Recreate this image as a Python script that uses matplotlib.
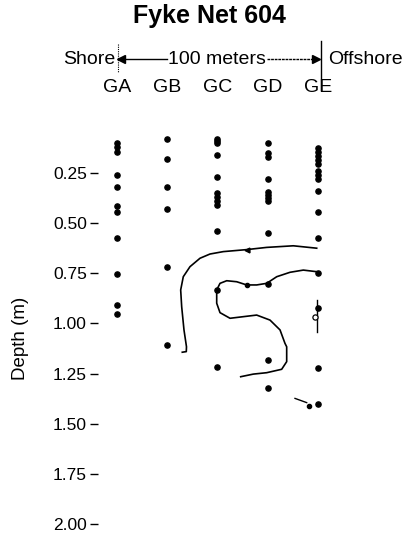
import matplotlib
matplotlib.use('Agg')
import matplotlib.pyplot as plt

plt.rcParams['font.family'] = ['Liberation Sans', 'DejaVu Sans']

# Stations along the transect (column index = position)
stations = ['GA', 'GB', 'GC', 'GD', 'GE']

# Sampling depths (m) at each station
depth_ga = [0.103, 0.122, 0.148, 0.262, 0.322, 0.415, 0.447, 0.577, 0.752, 0.91, 0.952]
depth_gb = [0.082, 0.183, 0.323, 0.432, 0.72, 1.108]
depth_gc = [0.08, 0.092, 0.104, 0.163, 0.273, 0.352, 0.372, 0.39, 0.41, 0.54, 0.835, 1.22]
depth_gd = [0.104, 0.153, 0.172, 0.283, 0.345, 0.361, 0.377, 0.389, 0.549, 0.805, 1.183, 1.324]
depth_ge = [0.127, 0.147, 0.167, 0.187, 0.207, 0.242, 0.261, 0.281, 0.34, 0.446, 0.573,
            0.748, 0.926, 1.224, 1.402]

# Hand drawn isolines (station position, depth)
outer_x = [3.98, 3.513, 2.982, 2.583, 2.116, 1.85, 1.651, 1.451, 1.317, 1.265, 1.285,
           1.331, 1.381, 1.377, 1.297]
outer_d = [0.626, 0.614, 0.622, 0.633, 0.643, 0.655, 0.676, 0.718, 0.768, 0.834, 0.917,
           1.033, 1.117, 1.141, 1.144]
inner_x = [3.98, 3.713, 3.447, 3.182, 2.982, 2.782, 2.583, 2.383, 2.184, 2.05, 1.984,
           1.984, 2.05, 2.25, 2.515, 2.782, 3.048, 3.248, 3.347, 3.381, 3.381, 3.281,
           2.982, 2.715, 2.463]
inner_d = [0.743, 0.735, 0.746, 0.768, 0.801, 0.809, 0.809, 0.793, 0.788, 0.801, 0.834,
           0.9, 0.947, 0.975, 0.967, 0.959, 0.984, 1.033, 1.1, 1.117, 1.191, 1.229,
           1.246, 1.253, 1.266]
ge_seg_x = [3.98, 3.98]
ge_seg_d = [0.884, 1.042]
low_seg_x = [3.547, 3.78]
low_seg_d = [1.374, 1.395]
extra_x = [2.583, 3.832]
extra_d = [0.809, 1.412]

yticks = [0.25, 0.50, 0.75, 1.00, 1.25, 1.50, 1.75, 2.00]

W, H = 414, 540
fig = plt.figure(figsize=(W / 100, H / 100), dpi=100)

# axes placed in pixels: left spine at 98 px, depth 0 at 122.5 px, 200.8 px per metre
col0, colw = 117.3, 50.1
top, ppm = 122.5, 200.8
left_px = 98
xl = ((left_px - col0) / colw, 4.6)
yl = (2.05, 0)
ax = fig.add_axes([left_px / W, 1 - (top + yl[0] * ppm) / H,
                   (xl[1] - xl[0]) * colw / W, yl[0] * ppm / H])
ax.set_xlim(*xl)
ax.set_ylim(*yl)

for i, d in enumerate([depth_ga, depth_gb, depth_gc, depth_gd, depth_ge]):
    ax.scatter([i] * len(d), d, s=14, color='black', zorder=3, clip_on=False)

ax.plot(outer_x, outer_d, color='black', lw=1.2)
ax.plot(inner_x, inner_d, color='black', lw=1.2)
ax.plot(ge_seg_x, ge_seg_d, color='black', lw=1.0)
ax.plot(low_seg_x, low_seg_d, color='black', lw=1.0)
ax.scatter(extra_x, extra_d, s=9, color='black', zorder=3)
ax.scatter([3.946], [0.967], s=14, facecolor='white', edgecolor='black', lw=0.9, zorder=4)
ax.plot([2.583], [0.633], marker='<', ms=3.5, color='black')

for s in ax.spines.values():
    s.set_visible(False)
ax.set_xticks([])
ax.set_yticks(yticks)
ax.set_yticklabels([f'{v:.2f}' for v in yticks])
ax.tick_params(axis='y', length=6, width=1.0, pad=2, labelsize=12.5)
ax.set_ylabel('Depth (m)', fontsize=13.5)
ax.yaxis.set_label_coords(-0.276, 0.476)


def fx(x):
    return x / W


def fy(y):
    return 1 - y / H


# header
fig.text(fx(209), fy(23), 'Fyke Net 604', fontsize=18, fontweight='bold',
         ha='center', va='baseline')
fig.text(fx(115), fy(64), 'Shore', fontsize=14, ha='right', va='baseline')
fig.text(fx(217), fy(64), '100 meters', fontsize=14, ha='center', va='baseline')
fig.text(fx(328), fy(64), 'Offshore', fontsize=14, ha='left', va='baseline')
fig.add_artist(plt.Line2D([fx(118), fx(118)], [fy(44), fy(72)], color='black',
                          lw=0.8, ls=(0, (1, 1))))
fig.add_artist(plt.Line2D([fx(321), fx(321)], [fy(41), fy(90)], color='black', lw=1.0))
fig.add_artist(plt.Line2D([fx(124), fx(167)], [fy(59), fy(59)], color='black', lw=1.0))
fig.add_artist(plt.Line2D([fx(267), fx(313)], [fy(59), fy(59)], color='black', lw=1.0,
                          ls=(0, (2, 0.6))))
fig.add_artist(plt.Line2D([fx(121)], [fy(59)], marker='<', ms=6, color='black'))
fig.add_artist(plt.Line2D([fx(316)], [fy(59)], marker='>', ms=6, color='black'))
for i, name in enumerate(stations):
    fig.text(fx(col0 + i * colw), fy(92), name, fontsize=14, ha='center', va='baseline')

fig.savefig('out.png', dpi=100)
